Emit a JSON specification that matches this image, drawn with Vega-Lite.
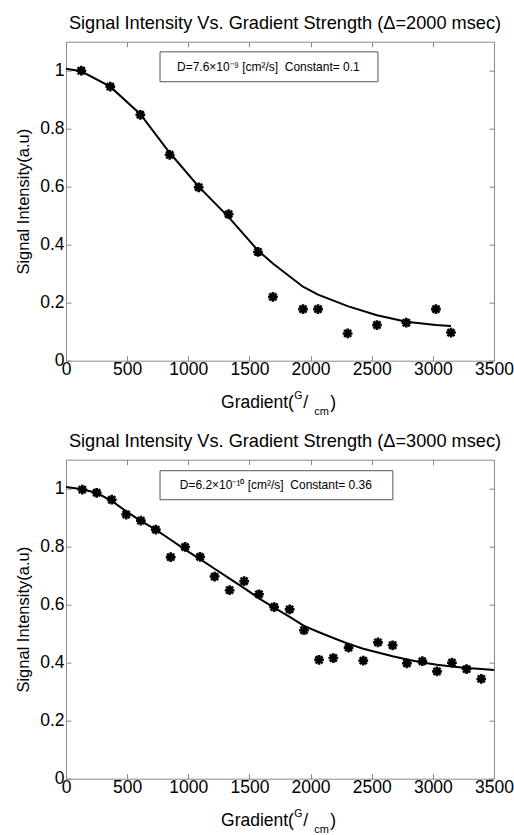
{
  "$schema": "https://vega.github.io/schema/vega-lite/v6.json",
  "padding": {"left": 15, "top": 13.7, "right": 0, "bottom": 0},
  "datasets": {
    "pts2000": [
      {"g": 125, "s": 1.0}, {"g": 362, "s": 0.945}, {"g": 608, "s": 0.848}, {"g": 848, "s": 0.71},
      {"g": 1085, "s": 0.598}, {"g": 1330, "s": 0.505}, {"g": 1570, "s": 0.375}, {"g": 1692, "s": 0.22},
      {"g": 1938, "s": 0.178}, {"g": 2061, "s": 0.178}, {"g": 2303, "s": 0.094}, {"g": 2543, "s": 0.123},
      {"g": 2783, "s": 0.131}, {"g": 3025, "s": 0.178}, {"g": 3148, "s": 0.097}
    ],
    "fit2000": [
      {"g": 0, "s": 1.007}, {"g": 125, "s": 0.998}, {"g": 362, "s": 0.945}, {"g": 608, "s": 0.85},
      {"g": 848, "s": 0.717}, {"g": 1085, "s": 0.6}, {"g": 1330, "s": 0.495}, {"g": 1570, "s": 0.38},
      {"g": 1692, "s": 0.335}, {"g": 1938, "s": 0.255}, {"g": 2061, "s": 0.228}, {"g": 2303, "s": 0.188},
      {"g": 2543, "s": 0.157}, {"g": 2783, "s": 0.134}, {"g": 3025, "s": 0.123}, {"g": 3148, "s": 0.12}
    ],
    "pts3000": [
      {"g": 133, "s": 0.997}, {"g": 251, "s": 0.986}, {"g": 374, "s": 0.962}, {"g": 492, "s": 0.911},
      {"g": 612, "s": 0.89}, {"g": 734, "s": 0.859}, {"g": 856, "s": 0.764}, {"g": 974, "s": 0.799},
      {"g": 1096, "s": 0.765}, {"g": 1215, "s": 0.697}, {"g": 1338, "s": 0.65}, {"g": 1457, "s": 0.681},
      {"g": 1578, "s": 0.636}, {"g": 1702, "s": 0.592}, {"g": 1829, "s": 0.584}, {"g": 1946, "s": 0.512},
      {"g": 2069, "s": 0.41}, {"g": 2186, "s": 0.416}, {"g": 2311, "s": 0.452}, {"g": 2431, "s": 0.407},
      {"g": 2551, "s": 0.47}, {"g": 2671, "s": 0.46}, {"g": 2788, "s": 0.398}, {"g": 2914, "s": 0.405},
      {"g": 3034, "s": 0.37}, {"g": 3156, "s": 0.4}, {"g": 3276, "s": 0.378}, {"g": 3396, "s": 0.344}
    ],
    "fit3000": [
      {"g": 0, "s": 1.006}, {"g": 133, "s": 0.998}, {"g": 251, "s": 0.985}, {"g": 374, "s": 0.958},
      {"g": 492, "s": 0.922}, {"g": 612, "s": 0.889}, {"g": 734, "s": 0.859}, {"g": 856, "s": 0.824},
      {"g": 974, "s": 0.79}, {"g": 1096, "s": 0.757}, {"g": 1215, "s": 0.724}, {"g": 1338, "s": 0.69},
      {"g": 1457, "s": 0.657}, {"g": 1578, "s": 0.622}, {"g": 1702, "s": 0.59}, {"g": 1829, "s": 0.558},
      {"g": 1946, "s": 0.527}, {"g": 2069, "s": 0.505}, {"g": 2186, "s": 0.485}, {"g": 2311, "s": 0.465},
      {"g": 2431, "s": 0.448}, {"g": 2551, "s": 0.435}, {"g": 2671, "s": 0.422}, {"g": 2788, "s": 0.411},
      {"g": 2914, "s": 0.401}, {"g": 3034, "s": 0.393}, {"g": 3156, "s": 0.387}, {"g": 3276, "s": 0.382},
      {"g": 3396, "s": 0.378}, {"g": 3500, "s": 0.375}
    ]
  },
  "spacing": 14,
  "vconcat": [
    {
      "width": 428,
      "height": 319,
      "title": {"text": "Signal Intensity Vs. Gradient Strength (Δ=2000 msec)", "dx": 5},
      "resolve": {"axis": {"x": "independent", "y": "independent"}},
      "layer": [
        {
          "data": {"name": "fit2000"},
          "mark": {"type": "line", "color": "black", "strokeWidth": 2},
          "encoding": {
            "x": {"field": "g", "type": "quantitative", "scale": {"domain": [0, 3500], "nice": false, "zero": false},
              "axis": {"orient": "bottom", "values": [0, 500, 1000, 1500, 2000, 2500, 3000, 3500], "format": "d", "title": null, "labelPadding": 5}},
            "y": {"field": "s", "type": "quantitative", "scale": {"domain": [0, 1.1], "nice": false},
              "axis": {"orient": "left", "values": [0, 0.2, 0.4, 0.6, 0.8, 1], "format": "~g", "title": "Signal Intensity(a.u)", "labelPadding": 7}}
          }
        },
        {
          "data": {"name": "pts2000"},
          "mark": {"type": "point", "shape": "M0,-1L0,1M-1,0L1,0M-0.72,-0.72L0.72,0.72M-0.72,0.72L0.72,-0.72", "filled": false, "stroke": "black", "strokeWidth": 2.6, "size": 95, "opacity": 1},
          "encoding": {
            "x": {"field": "g", "type": "quantitative", "axis": {"orient": "top", "values": [0, 500, 1000, 1500, 2000, 2500, 3000, 3500], "labels": false, "title": null}},
            "y": {"field": "s", "type": "quantitative", "axis": {"orient": "right", "values": [0, 0.2, 0.4, 0.6, 0.8, 1], "labels": false, "title": null}}
          }
        },
        {
          "data": {"values": [{}]},
          "mark": {"type": "rect", "fill": "white", "stroke": "#555555", "strokeWidth": 1},
          "encoding": {
            "x": {"datum": 769, "type": "quantitative", "axis": null},
            "x2": {"datum": 2551},
            "y": {"datum": 1.065, "type": "quantitative", "axis": null},
            "y2": {"datum": 0.962}
          }
        },
        {
          "data": {"values": [{}]},
          "mark": {"type": "text", "fontSize": 12, "align": "center", "baseline": "middle", "color": "black"},
          "encoding": {
            "x": {"datum": 1655, "type": "quantitative", "axis": null},
            "y": {"datum": 1.013, "type": "quantitative", "axis": null},
            "text": {"value": "D=7.6×10⁻⁹ [cm²/s]\u00a0\u00a0Constant= 0.1"}
          }
        },
        {
          "data": {"values": [{}]},
          "mark": {"type": "text", "fontSize": 17.5, "align": "right", "baseline": "alphabetic", "color": "black"},
          "encoding": {
            "x": {"datum": 1864, "type": "quantitative", "axis": null},
            "y": {"datum": -0.164, "type": "quantitative", "axis": null},
            "text": {"value": "Gradient("}
          }
        },
        {
          "data": {"values": [{}]},
          "mark": {"type": "text", "fontSize": 10.5, "align": "left", "baseline": "alphabetic", "color": "black"},
          "encoding": {
            "x": {"datum": 1866, "type": "quantitative", "axis": null},
            "y": {"datum": -0.132, "type": "quantitative", "axis": null},
            "text": {"value": "G"}
          }
        },
        {
          "data": {"values": [{}]},
          "mark": {"type": "text", "fontSize": 17.5, "align": "left", "baseline": "alphabetic", "color": "black"},
          "encoding": {
            "x": {"datum": 1940, "type": "quantitative", "axis": null},
            "y": {"datum": -0.164, "type": "quantitative", "axis": null},
            "text": {"value": "/"}
          }
        },
        {
          "data": {"values": [{}]},
          "mark": {"type": "text", "fontSize": 11, "align": "left", "baseline": "alphabetic", "color": "black"},
          "encoding": {
            "x": {"datum": 2030, "type": "quantitative", "axis": null},
            "y": {"datum": -0.188, "type": "quantitative", "axis": null},
            "text": {"value": "cm"}
          }
        },
        {
          "data": {"values": [{}]},
          "mark": {"type": "text", "fontSize": 17.5, "align": "left", "baseline": "alphabetic", "color": "black"},
          "encoding": {
            "x": {"datum": 2160, "type": "quantitative", "axis": null},
            "y": {"datum": -0.164, "type": "quantitative", "axis": null},
            "text": {"value": ")"}
          }
        }
      ]
    },
    {
      "width": 428,
      "height": 319,
      "title": {"text": "Signal Intensity Vs. Gradient Strength (Δ=3000 msec)", "dx": 5},
      "resolve": {"axis": {"x": "independent", "y": "independent"}},
      "layer": [
        {
          "data": {"name": "fit3000"},
          "mark": {"type": "line", "color": "black", "strokeWidth": 2},
          "encoding": {
            "x": {"field": "g", "type": "quantitative", "scale": {"domain": [0, 3500], "nice": false, "zero": false},
              "axis": {"orient": "bottom", "values": [0, 500, 1000, 1500, 2000, 2500, 3000, 3500], "format": "d", "title": null, "labelPadding": 5}},
            "y": {"field": "s", "type": "quantitative", "scale": {"domain": [0, 1.1], "nice": false},
              "axis": {"orient": "left", "values": [0, 0.2, 0.4, 0.6, 0.8, 1], "format": "~g", "title": "Signal Intensity(a.u)", "labelPadding": 7}}
          }
        },
        {
          "data": {"name": "pts3000"},
          "mark": {"type": "point", "shape": "M0,-1L0,1M-1,0L1,0M-0.72,-0.72L0.72,0.72M-0.72,0.72L0.72,-0.72", "filled": false, "stroke": "black", "strokeWidth": 2.6, "size": 95, "opacity": 1},
          "encoding": {
            "x": {"field": "g", "type": "quantitative", "axis": {"orient": "top", "values": [0, 500, 1000, 1500, 2000, 2500, 3000, 3500], "labels": false, "title": null}},
            "y": {"field": "s", "type": "quantitative", "axis": {"orient": "right", "values": [0, 0.2, 0.4, 0.6, 0.8, 1], "labels": false, "title": null}}
          }
        },
        {
          "data": {"values": [{}]},
          "mark": {"type": "rect", "fill": "white", "stroke": "#555555", "strokeWidth": 1},
          "encoding": {
            "x": {"datum": 769, "type": "quantitative", "axis": null},
            "x2": {"datum": 2673},
            "y": {"datum": 1.062, "type": "quantitative", "axis": null},
            "y2": {"datum": 0.962}
          }
        },
        {
          "data": {"values": [{}]},
          "mark": {"type": "text", "fontSize": 12, "align": "center", "baseline": "middle", "color": "black"},
          "encoding": {
            "x": {"datum": 1716, "type": "quantitative", "axis": null},
            "y": {"datum": 1.012, "type": "quantitative", "axis": null},
            "text": {"value": "D=6.2×10⁻¹⁰ [cm²/s]\u00a0\u00a0Constant= 0.36"}
          }
        },
        {
          "data": {"values": [{}]},
          "mark": {"type": "text", "fontSize": 17.5, "align": "right", "baseline": "alphabetic", "color": "black"},
          "encoding": {
            "x": {"datum": 1864, "type": "quantitative", "axis": null},
            "y": {"datum": -0.164, "type": "quantitative", "axis": null},
            "text": {"value": "Gradient("}
          }
        },
        {
          "data": {"values": [{}]},
          "mark": {"type": "text", "fontSize": 10.5, "align": "left", "baseline": "alphabetic", "color": "black"},
          "encoding": {
            "x": {"datum": 1866, "type": "quantitative", "axis": null},
            "y": {"datum": -0.132, "type": "quantitative", "axis": null},
            "text": {"value": "G"}
          }
        },
        {
          "data": {"values": [{}]},
          "mark": {"type": "text", "fontSize": 17.5, "align": "left", "baseline": "alphabetic", "color": "black"},
          "encoding": {
            "x": {"datum": 1940, "type": "quantitative", "axis": null},
            "y": {"datum": -0.164, "type": "quantitative", "axis": null},
            "text": {"value": "/"}
          }
        },
        {
          "data": {"values": [{}]},
          "mark": {"type": "text", "fontSize": 11, "align": "left", "baseline": "alphabetic", "color": "black"},
          "encoding": {
            "x": {"datum": 2030, "type": "quantitative", "axis": null},
            "y": {"datum": -0.188, "type": "quantitative", "axis": null},
            "text": {"value": "cm"}
          }
        },
        {
          "data": {"values": [{}]},
          "mark": {"type": "text", "fontSize": 17.5, "align": "left", "baseline": "alphabetic", "color": "black"},
          "encoding": {
            "x": {"datum": 2160, "type": "quantitative", "axis": null},
            "y": {"datum": -0.164, "type": "quantitative", "axis": null},
            "text": {"value": ")"}
          }
        }
      ]
    }
  ],
  "config": {
    "font": "Liberation Sans",
    "background": "white",
    "view": {"stroke": null},
    "text": {"font": "Liberation Sans"},
    "title": {"font": "Liberation Sans", "fontSize": 18.2, "fontWeight": "normal", "color": "black", "offset": 8},
    "axis": {
      "grid": false,
      "domainColor": "#8a8a8a",
      "domainWidth": 1,
      "tickColor": "#8a8a8a",
      "tickSize": -5,
      "labelFont": "Liberation Sans",
      "labelFontSize": 17.5,
      "labelColor": "black",
      "labelFlush": false,
      "labelOverlap": false,
      "labelPadding": 3,
      "titleFont": "Liberation Sans",
      "titleFontSize": 16.5,
      "titleFontWeight": "normal",
      "titleColor": "black",
      "titlePadding": 8
    }
  }
}
